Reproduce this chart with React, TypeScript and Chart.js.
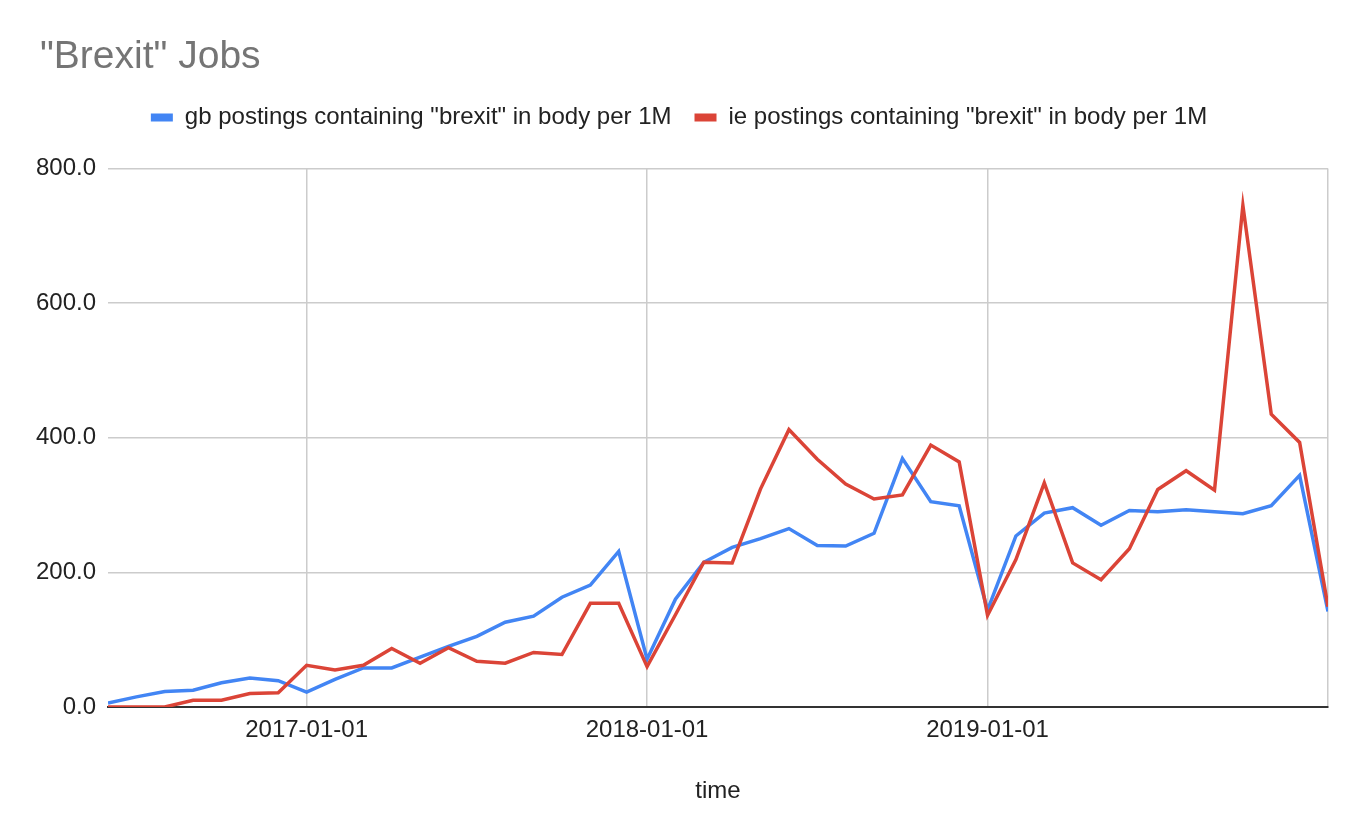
import React, { useEffect, useRef } from "react";
import { Chart, registerables } from "chart.js";

Chart.register(...registerables);

// Monthly points from 2016-06 to 2020-01 (index 0 = 2016-06)
const months: string[] = [
  "2016-06", "2016-07", "2016-08", "2016-09", "2016-10", "2016-11", "2016-12",
  "2017-01", "2017-02", "2017-03", "2017-04", "2017-05", "2017-06", "2017-07", "2017-08", "2017-09", "2017-10", "2017-11", "2017-12",
  "2018-01", "2018-02", "2018-03", "2018-04", "2018-05", "2018-06", "2018-07", "2018-08", "2018-09", "2018-10", "2018-11", "2018-12",
  "2019-01", "2019-02", "2019-03", "2019-04", "2019-05", "2019-06", "2019-07", "2019-08", "2019-09", "2019-10", "2019-11", "2019-12",
  "2020-01",
];

const gbValues: number[] = [
  6, 15, 23, 25, 36, 43, 39,
  22, 41, 58, 58, 74, 90, 105, 126, 135, 163, 181, 231,
  71, 160, 215, 237, 250, 265, 240, 239, 258, 369, 305, 299,
  144, 254, 288, 296, 270, 292, 290, 293, 290, 287, 299, 344,
  142,
];

const ieValues: number[] = [
  0, 0, 0, 10, 10, 20, 21,
  62, 55, 62, 87, 65, 88, 68, 65, 81, 78, 154, 154,
  60, 137, 215, 214, 324, 412, 368, 331, 309, 315, 389, 364,
  136, 219, 333, 214, 189, 235, 323, 351, 322, 745, 435, 393,
  149,
];

const xTickIndices: number[] = [7, 19, 31, 43];
const xTickLabels: string[] = ["2017-01-01", "2018-01-01", "2019-01-01", ""];
const yTicks: number[] = [0, 200, 400, 600, 800];

const seriesNames: string[] = [
  'gb postings containing "brexit" in body per 1M',
  'ie postings containing "brexit" in body per 1M',
];

const FONT = "'Liberation Sans', Arial, Helvetica, sans-serif";

// Shift the title to its left offset without moving the axis area
const titleOffsetPlugin = {
  id: "titleOffset",
  afterLayout(chart: any) {
    if (chart.titleBlock) {
      chart.titleBlock.left = 40;
    }
  },
};

export default function App() {
  const canvasRef = useRef<HTMLCanvasElement | null>(null);

  useEffect(() => {
    document.body.style.margin = "0";
    const canvas = canvasRef.current;
    if (!canvas) return;

    const chart = new Chart(canvas, {
      type: "line",
      data: {
        datasets: [
          {
            label: seriesNames[0],
            data: gbValues.map((v, i) => ({ x: i, y: v })),
            borderColor: "#4285F4",
            backgroundColor: "#4285F4",
            borderWidth: 3.5,
            pointRadius: 0,
            tension: 0,
            order: 2,
          },
          {
            label: seriesNames[1],
            data: ieValues.map((v, i) => ({ x: i, y: v })),
            borderColor: "#DB4437",
            backgroundColor: "#DB4437",
            borderWidth: 3.5,
            pointRadius: 0,
            tension: 0,
            order: 1,
          },
        ],
      },
      plugins: [titleOffsetPlugin],
      options: {
        animation: false,
        responsive: false,
        maintainAspectRatio: false,
        layout: { padding: { left: 30, right: 26, top: 0, bottom: 0 } },
        plugins: {
          tooltip: { enabled: false },
          title: {
            display: true,
            text: '"Brexit" Jobs',
            align: "start",
            color: "#757575",
            font: { family: FONT, size: 39, weight: "normal", lineHeight: 1.2 },
            padding: { top: 34, bottom: 1.6 },
            weight: 2000,
          } as any,
          subtitle: {
            display: true,
            text: " ",
            font: { family: FONT, size: 1, lineHeight: 1 },
            padding: { top: 28, bottom: 0 },
            weight: 1500,
          } as any,
          legend: {
            display: true,
            position: "top",
            align: "center",
            weight: 1800,
            labels: {
              color: "#222222",
              font: { family: FONT, size: 24 },
              boxWidth: 22,
              boxHeight: 8,
              padding: 23,
              sort: (a: any, b: any) => a.datasetIndex - b.datasetIndex,
              generateLabels: (ch: any) => {
                const items = (Chart as any).defaults.plugins.legend.labels.generateLabels(ch);
                return items.map((it: any) => ({ ...it, lineWidth: 0 }));
              },
            },
          } as any,
        },
        scales: {
          x: {
            type: "linear",
            min: 0,
            max: months.length - 1,
            afterBuildTicks: (scale: any) => {
              scale.ticks = xTickIndices.map((v) => ({ value: v }));
            },
            afterFit: (scale: any) => {
              scale.height = 123;
            },
            ticks: {
              color: "#222222",
              font: { family: FONT, size: 24 },
              padding: 9,
              maxRotation: 0,
              autoSkip: false,
              callback: (value: any) => {
                const idx = xTickIndices.indexOf(Number(value));
                return idx >= 0 ? xTickLabels[idx] : "";
              },
            },
            grid: { color: "#cccccc", lineWidth: 1.5, drawTicks: false },
            border: { display: true, color: "#333333", width: 2 },
            title: {
              display: true,
              text: "time",
              color: "#222222",
              font: { family: FONT, size: 24 },
              padding: { top: 0, bottom: 24 },
            },
          },
          y: {
            type: "linear",
            min: 0,
            max: 800,
            afterBuildTicks: (scale: any) => {
              scale.ticks = yTicks.map((v) => ({ value: v }));
            },
            afterFit: (scale: any) => {
              scale.width = 78;
            },
            ticks: {
              color: "#222222",
              font: { family: FONT, size: 24 },
              padding: 12,
              callback: (value: any) => Number(value).toFixed(1),
            },
            grid: { color: "#cccccc", lineWidth: 1.5, drawTicks: false },
            border: { display: false },
          },
        },
      } as any,
    });

    return () => {
      chart.destroy();
    };
  }, []);

  return (
    <div style={{ width: 1354, height: 830, background: "#ffffff" }}>
      <canvas ref={canvasRef} width={1354} height={830} style={{ display: "block" }} />
    </div>
  );
}
